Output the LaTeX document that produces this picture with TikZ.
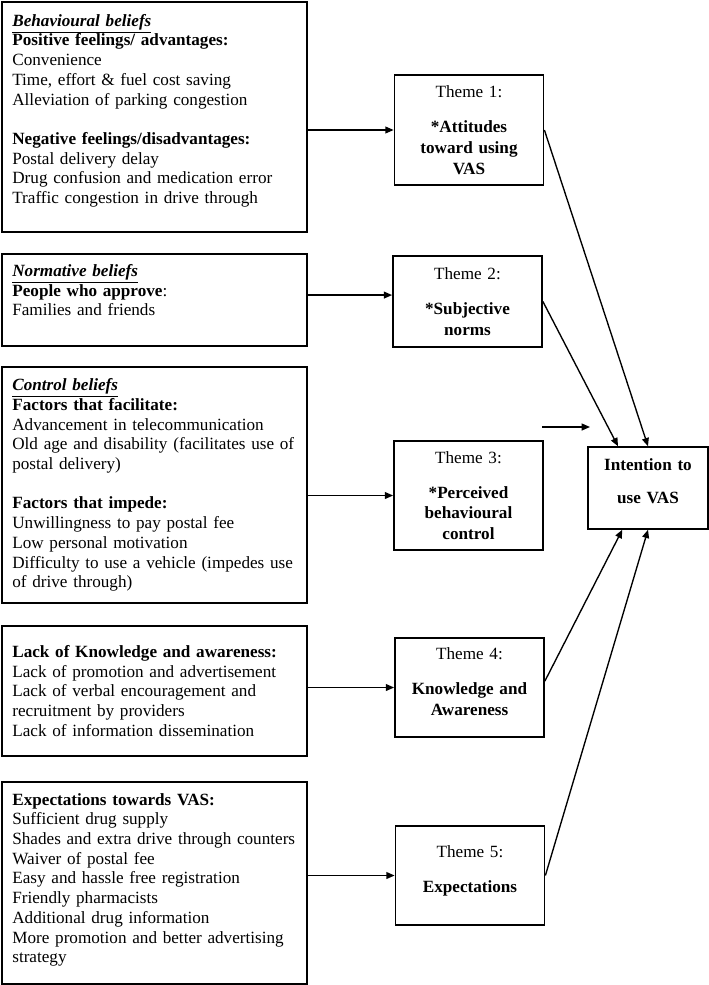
\documentclass[tikz,border=0pt]{standalone}
\usepackage{fontspec}
\setmainfont{Liberation Serif}
\usetikzlibrary{arrows.meta}

\newcommand{\hd}[1]{\underline{\textbf{\textit{#1}}}}
\newcommand{\lift}[1]{\rule[-#1]{0pt}{#1}}

\tikzset{
  beliefbox/.style={draw, line width=1.05pt, minimum width=213.5pt, text width=199pt,
    inner xsep=7pt, align=left, font=\fontsize{12}{13.8}\selectfont},
  themebox/.style={draw, line width=1.05pt, minimum width=104.5pt, text width=92pt,
    align=center, font=\fontsize{12}{14.5}\selectfont},
  link/.style={line width=0.95pt, -{Triangle[length=5.8pt,width=4.8pt]}}
}

\begin{document}
\begin{tikzpicture}[x=0.7pt, y=-0.7pt]
	\useasboundingbox (0,0) rectangle (709,985);
	
	% belief boxes on the left
	\node[beliefbox, minimum height=161pt] (b1) at (154.5,117) {%
		\hd{Behavioural beliefs}\\
		\textbf{Positive feelings/ advantages:}\\
		Convenience\\
		Time, effort \& fuel cost saving\\
		Alleviation of parking congestion\\[13.8pt]
		\textbf{Negative feelings/disadvantages:}\\
		Postal delivery delay\\
		Drug confusion and medication error\\
		Traffic congestion in drive through\lift{11.4pt}};
	\node[beliefbox, minimum height=64.4pt] (b2) at (154.5,300) {%
		\hd{Normative beliefs}\\
		\textbf{People who approve}:\\
		Families and friends\lift{14pt}};
	\node[beliefbox, minimum height=165.2pt] (b3) at (154.5,485) {%
		\hd{Control beliefs}\\
		\textbf{Factors that facilitate:}\\
		Advancement in telecommunication\\
		Old age and disability (facilitates use of\\
		postal delivery)\\[13.8pt]
		\textbf{Factors that impede:}\\
		Unwillingness to pay postal fee\\
		Low personal motivation\\
		Difficulty to use a vehicle (impedes use\\
		of drive through)};
	\node[beliefbox, minimum height=91pt] (b4) at (154.5,691) {%
		\textbf{Lack of Knowledge and awareness:}\\
		Lack of promotion and advertisement\\
		Lack of verbal encouragement and\\
		recruitment by providers\\
		Lack of information dissemination};
	\node[beliefbox, minimum height=141.4pt] (b5) at (154.5,883) {%
		\textbf{Expectations towards VAS:}\\
		Sufficient drug supply\\
		Shades and extra drive through counters\\
		Waiver of postal fee\\
		Easy and hassle free registration\\
		Friendly pharmacists\\
		Additional drug information\\
		More promotion and better advertising\\
		strategy\lift{7pt}};
	
	% themes
	\node[themebox, minimum height=77pt] (t1) at (469,130)
		{Theme 1:\\[10pt]\textbf{*Attitudes}\\\textbf{toward using}\\\textbf{VAS}};
	\node[themebox, minimum height=63.7pt] (t2) at (467.5,301.5)
		{Theme 2:\\[10pt]\textbf{*Subjective}\\\textbf{norms}};
	\node[themebox, minimum height=76.3pt] (t3) at (468.5,495.5)
		{Theme 3:\\[10pt]\textbf{*Perceived}\\\textbf{behavioural}\\\textbf{control}};
	\node[themebox, minimum height=69.3pt] (t4) at (469.5,687.5)
		{Theme 4:\\[10pt]\textbf{Knowledge and}\\\textbf{Awareness}\lift{8.6pt}};
	\node[themebox, minimum height=69.3pt] (t5) at (470,875.5)
		{Theme 5:\\[10pt]\textbf{Expectations}\lift{8.6pt}};
	\node[themebox, minimum width=84pt, text width=76pt, minimum height=57.4pt] (int) at (648,488)
		{\textbf{Intention to}\\[9pt]\textbf{use VAS}\lift{10pt}};
	
	% beliefs to themes
	\draw[link] (t1.west -| b1.east) -- (t1.west);
	\draw[link] ([yshift=4.5pt]t2.west -| b2.east) -- ([yshift=4.5pt]t2.west);
	\draw[link] (t3.west -| b3.east) -- (t3.west);
	\draw[link] (t4.west -| b4.east) -- (t4.west);
	\draw[link] (t5.west -| b5.east) -- (t5.west);
	
	% themes to intention
	\draw[link] (t1.east) -- (int.north);
	\draw[link] (t2.east) -- ([xshift=-21pt]int.north);
	\draw[link] ([yshift=4.5pt]t4.east) -- ([xshift=-18pt]int.south);
	\draw[link] (t5.east) -- (int.south);
	
	% loose arrow
	\coordinate (s1) at (542,427);
	\coordinate (s2) at (590,427);
	\draw[link] (s1) -- (s2);
	
\end{tikzpicture}
\end{document}
